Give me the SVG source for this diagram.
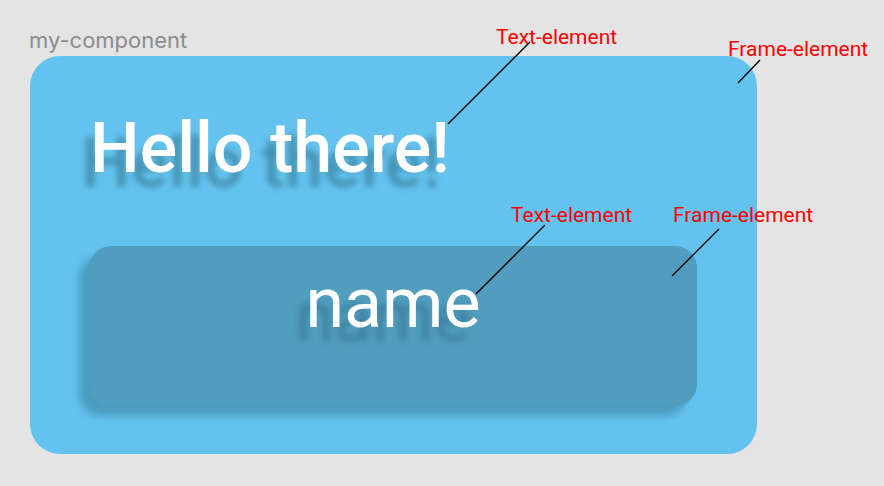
<svg xmlns="http://www.w3.org/2000/svg" width="884" height="486" viewBox="0 0 884 486">
<defs>
<style>
.title{font-family:Inter,Roboto,"Liberation Sans",sans-serif;font-size:22px;fill:#8c8c8c}
.big{font-family:Roboto,"Liberation Sans",sans-serif;font-size:70px;fill:#ffffff}
.bigsh{font-family:Roboto,"Liberation Sans",sans-serif;font-size:70px;fill:#2f6f8c;opacity:0.6}
.med{font-weight:500}
.lbl{font-family:Roboto,"Liberation Sans",sans-serif;font-size:21px;fill:#ff0000}
.conn{stroke:#000;stroke-width:1.3;fill:none}
</style>
<filter id="blur" x="-20%" y="-20%" width="140%" height="140%"><feGaussianBlur stdDeviation="3"/></filter>
<filter id="boxsh" x="-10%" y="-20%" width="120%" height="140%"><feGaussianBlur stdDeviation="4"/></filter>
</defs>
<rect width="884" height="486" fill="#e4e4e4"/>
<g id="my-component">
<text class="title" x="29" y="48">my-component</text>
<rect x="30" y="56" width="727" height="398" rx="30" fill="#64c3ee"/>
</g>
<g id="hello-text">
<text class="bigsh med" x="81" y="187" filter="url(#blur)">Hello there!</text>
<text class="big med" x="90" y="172">Hello there!</text>
</g>
<g id="name-frame">
<rect x="79" y="256" width="608" height="160" rx="22" fill="#3f8aaa" opacity="0.7" filter="url(#boxsh)"/>
<rect x="89" y="246" width="608" height="160" rx="22" fill="#519dbd"/>
</g>
<g id="name-text">
<text class="bigsh" x="383" y="341" text-anchor="middle" filter="url(#blur)">name</text>
<text class="big" x="393" y="327" text-anchor="middle">name</text>
</g>
<g id="labels">
<text class="lbl" x="496" y="44">Text-element</text>
<text class="lbl" x="728" y="56">Frame-element</text>
<text class="lbl" x="511" y="222">Text-element</text>
<text class="lbl" x="673" y="222">Frame-element</text>
</g>
<g id="connectors">
<line class="conn" x1="448" y1="124" x2="530" y2="42"/>
<line class="conn" x1="738" y1="83" x2="760" y2="60"/>
<line class="conn" x1="476" y1="294" x2="545" y2="225"/>
<line class="conn" x1="672" y1="276" x2="719" y2="229"/>
</g>
</svg>
